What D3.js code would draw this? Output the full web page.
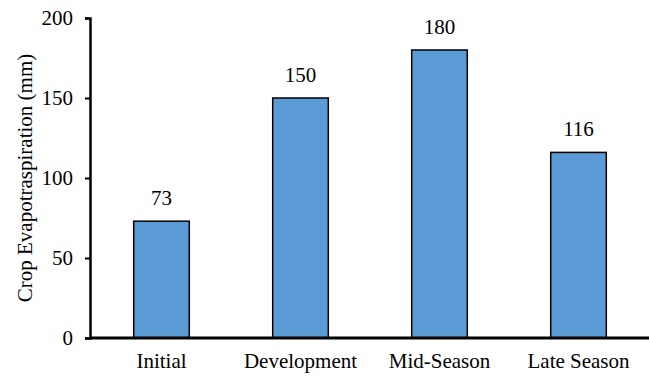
<!DOCTYPE html>
<html>
<head>
<meta charset="utf-8">
<script src="https://cdn.jsdelivr.net/npm/d3@7"></script>
<style>
html,body{margin:0;padding:0;background:#fff;}
svg{display:block;}
text{font-family:"Liberation Serif","Times New Roman",serif;fill:#000;}
</style>
</head>
<body>
<svg id="chart" width="649" height="376"></svg>
<script>
const categories = ["Initial", "Development", "Mid-Season", "Late Season"];
const values = [73, 150, 180, 116];
const yTicks = [0, 50, 100, 150, 200];
const yLabel = "Crop Evapotraspiration (mm)";

const svg = d3.select("#chart");
const mLeft = 90, mRight = 649, mTop = 18, mBottom = 338;
const fs = 21;

const x = d3.scaleBand().domain(categories).range([92, 648]).paddingInner(0.6).paddingOuter(0.3);
const y = d3.scaleLinear().domain([0, 200]).range([mBottom, mTop]);

// bars
svg.selectAll("rect.bar").data(values).join("rect")
  .attr("class", "bar")
  .attr("x", (d, i) => x(categories[i]))
  .attr("y", d => y(d))
  .attr("width", x.bandwidth())
  .attr("height", d => y(0) - y(d))
  .attr("fill", "#5B9BD5")
  .attr("stroke", "#000")
  .attr("stroke-width", 1.5);

// value labels
svg.selectAll("text.val").data(values).join("text")
  .attr("class", "val")
  .attr("x", (d, i) => x(categories[i]) + x.bandwidth() / 2)
  .attr("y", d => y(d) - 16)
  .attr("text-anchor", "middle")
  .attr("font-size", fs)
  .text(d => d);

// y axis
const yAxis = d3.axisLeft(y).tickValues(yTicks).tickSize(5).tickPadding(12);
const gy = svg.append("g").attr("transform", `translate(${mLeft},0)`).call(yAxis);
gy.attr("font-family", null);
gy.select(".domain").attr("stroke", "#000").attr("stroke-width", 2.5);
gy.selectAll(".tick line").attr("stroke", "#000").attr("stroke-width", 2);
gy.selectAll(".tick text").attr("font-size", fs).attr("fill", "#000");

// x axis
const xAxis = d3.axisBottom(x).tickSize(0).tickPadding(15);
const gx = svg.append("g").attr("transform", `translate(0,${mBottom})`).call(xAxis);
gx.attr("font-family", null);
gx.select(".domain").attr("d", `M${mLeft},0H${mRight}`).attr("stroke", "#000").attr("stroke-width", 3);
gx.selectAll(".tick text").attr("font-size", fs).attr("fill", "#000");

// y label
svg.append("text")
  .attr("transform", `translate(32,${(mTop + mBottom) / 2}) rotate(-90)`)
  .attr("text-anchor", "middle")
  .attr("font-size", fs)
  .text(yLabel);
</script>
</body>
</html>
